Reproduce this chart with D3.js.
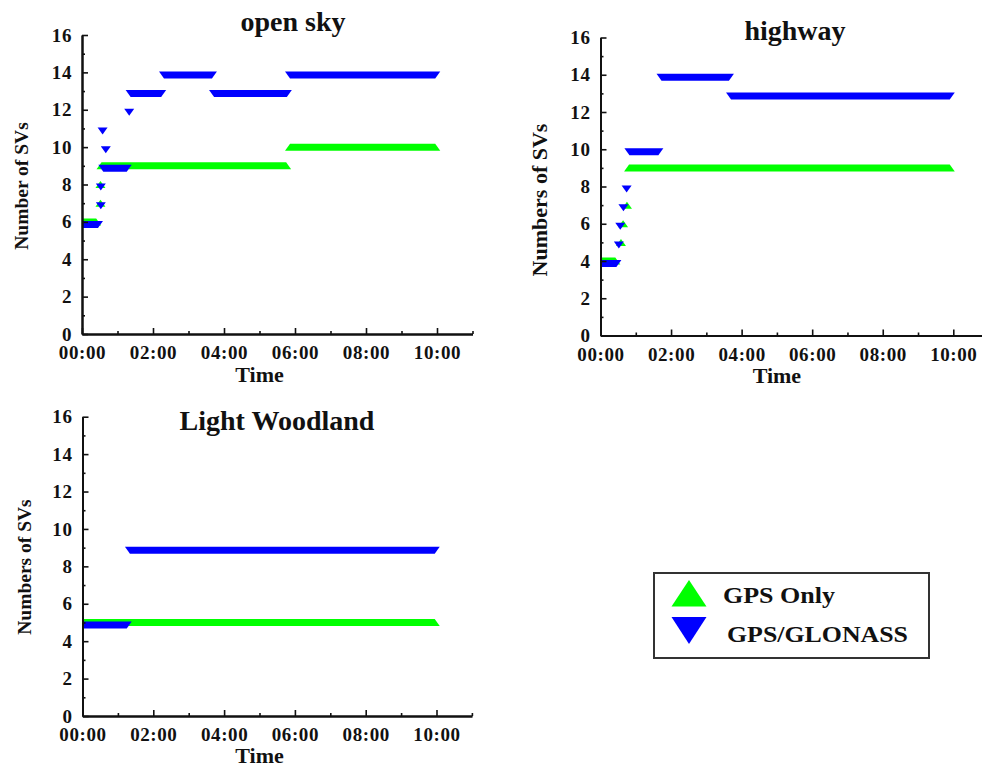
<!DOCTYPE html>
<html>
<head>
<meta charset="utf-8">
<script src="https://cdn.jsdelivr.net/npm/d3@7"></script>
<style>
  body { margin: 0; background: #fff; }
  text { font-family: "Liberation Serif", "Times New Roman", serif; font-weight: bold; fill: #111; }
</style>
</head>
<body>
<svg width="982" height="769"></svg>
<script>
// time ticks (hours on the axis, labelled hh:mm)
var majorTimes = [0, 2, 4, 6, 8, 10];
var minorTimes = [1, 3, 5, 7, 9, 11];
var timeLabels = ["00:00", "02:00", "04:00", "06:00", "08:00", "10:00"];
var majorSVs = [0, 2, 4, 6, 8, 10, 12, 14, 16];
var minorSVs = [1, 3, 5, 7, 9, 11, 13, 15];

// each run: [start time, end time, number of SVs]
var openSkyGps = [[0, 0.4, 6], [0.52, 0.52, 7], [0.52, 0.52, 8], [0.55, 5.75, 9], [5.86, 9.95, 10]];
var openSkyGlonass = [[0, 0.45, 6], [0.53, 0.53, 7], [0.53, 0.53, 8], [0.6, 1.26, 9], [0.67, 0.67, 10],
  [0.58, 0.58, 11], [1.33, 1.33, 12], [1.37, 2.23, 13], [2.31, 3.66, 14], [3.72, 5.77, 13], [5.86, 9.95, 14]];

var highwayGps = [[0, 0.42, 4], [0.58, 0.58, 5], [0.64, 0.64, 6], [0.75, 0.75, 7], [0.81, 9.9, 9]];
var highwayGlonass = [[0, 0.45, 4], [0.52, 0.52, 5], [0.56, 0.56, 6], [0.65, 0.65, 7], [0.74, 0.74, 8],
  [0.82, 1.64, 10], [1.73, 3.64, 14], [3.7, 9.9, 13]];

var woodlandGps = [[0, 9.95, 5]];
var woodlandGlonass = [[0, 1.25, 5], [1.34, 9.95, 9]];

var svg = d3.select("svg");

var panels = [
  { title: "open sky", ylabel: "Number of SVs", gps: openSkyGps, glonass: openSkyGlonass,
    x0: 82, hr: 35.5, y0: 334, y16: 35, titleX: 293, titleY: 31, labX: 28, labY: 186, labSize: 19.5, timeY: 382 },
  { title: "highway", ylabel: "Numbers of SVs", gps: highwayGps, glonass: highwayGlonass,
    x0: 600.5, hr: 35.28, y0: 335.5, y16: 37.5, titleX: 795, titleY: 40, labX: 547, labY: 200, labSize: 22, timeY: 383 },
  { title: "Light Woodland", ylabel: "Numbers of SVs", gps: woodlandGps, glonass: woodlandGlonass,
    x0: 82.5, hr: 35.4, y0: 716, y16: 416.7, titleX: 277, titleY: 430, labX: 31, labY: 567, labSize: 19.5, timeY: 763 }
];

var hw = 5; // half width of a marker

function upRun(x, y, d) {
  var a = x(d[0]), b = x(d[1]), c = y(d[2]);
  return "M" + a + "," + (c - 3.5) + "L" + b + "," + (c - 3.5) +
    "L" + (b + hw) + "," + (c + 3.5) + "L" + (a - hw) + "," + (c + 3.5) + "Z";
}

function downRun(x, y, d) {
  var a = x(d[0]), b = x(d[1]), c = y(d[2]);
  return "M" + (a - hw) + "," + (c - 1) + "L" + (b + hw) + "," + (c - 1) +
    "L" + b + "," + (c + 6) + "L" + a + "," + (c + 6) + "Z";
}

function styleAxis(g) {
  g.attr("font-family", "Liberation Serif, Times New Roman, serif")
    .attr("font-size", 19)
    .attr("font-weight", "bold");
  g.selectAll(".tick text").attr("letter-spacing", 0.6);
  g.select(".domain").attr("stroke", "#111").attr("stroke-width", 2);
  g.selectAll(".tick line").attr("stroke", "#111").attr("stroke-width", 1.6);
}

panels.forEach(function (p, i) {
  var x = d3.scaleLinear().domain([0, 11]).range([p.x0, p.x0 + 11 * p.hr]);
  var y = d3.scaleLinear().domain([0, 16]).range([p.y0, p.y16]);
  var g = svg.append("g");

  g.append("clipPath").attr("id", "clip" + i)
    .append("rect").attr("x", p.x0).attr("y", p.y16 - 10)
    .attr("width", 11 * p.hr + 10).attr("height", p.y0 - p.y16 + 10);

  var plot = g.append("g").attr("clip-path", "url(#clip" + i + ")");
  plot.selectAll("path.gps").data(p.gps).enter().append("path")
    .attr("class", "gps").attr("fill", "#00ff00")
    .attr("d", function (d) { return upRun(x, y, d); });
  plot.selectAll("path.glonass").data(p.glonass).enter().append("path")
    .attr("class", "glonass").attr("fill", "#0000ff")
    .attr("d", function (d) { return downRun(x, y, d); });

  // minor ticks
  g.append("g").attr("transform", "translate(0," + p.y0 + ")")
    .call(d3.axisBottom(x).tickValues(minorTimes).tickSize(-3).tickSizeOuter(0).tickFormat(""))
    .call(styleAxis);
  g.append("g").attr("transform", "translate(" + p.x0 + ",0)")
    .call(d3.axisLeft(y).tickValues(minorSVs).tickSize(-3).tickSizeOuter(0).tickFormat(""))
    .call(styleAxis);

  // major ticks with labels
  g.append("g").attr("transform", "translate(0," + p.y0 + ")")
    .call(d3.axisBottom(x).tickValues(majorTimes).tickSize(-6).tickSizeOuter(0).tickPadding(12)
      .tickFormat(function (d, j) { return timeLabels[j]; }))
    .call(styleAxis);
  g.append("g").attr("transform", "translate(" + p.x0 + ",0)")
    .call(d3.axisLeft(y).tickValues(majorSVs).tickSize(-6).tickSizeOuter(0).tickPadding(10))
    .call(styleAxis);

  g.append("text").attr("x", p.titleX).attr("y", p.titleY)
    .attr("text-anchor", "middle").attr("font-size", 28).text(p.title);

  g.append("text").attr("x", x(5)).attr("y", p.timeY)
    .attr("text-anchor", "middle").attr("font-size", 22).text("Time");

  g.append("text").attr("transform", "translate(" + p.labX + "," + p.labY + ") rotate(-90)")
    .attr("text-anchor", "middle").attr("font-size", p.labSize).text(p.ylabel);
});

// legend
var legend = svg.append("g");
legend.append("rect").attr("x", 654).attr("y", 573).attr("width", 275).attr("height", 85)
  .attr("fill", "none").attr("stroke", "#333").attr("stroke-width", 2);
legend.append("path").attr("fill", "#00ff00")
  .attr("d", "M689,580L706.5,606.5L671.5,606.5Z");
legend.append("path").attr("fill", "#0000ff")
  .attr("d", "M671.5,617L706.5,617L689,644Z");
legend.append("text").attr("x", 723).attr("y", 603).attr("font-size", 24)
  .attr("textLength", 112).attr("lengthAdjust", "spacingAndGlyphs").text("GPS Only");
legend.append("text").attr("x", 727).attr("y", 642).attr("font-size", 24)
  .attr("textLength", 181).attr("lengthAdjust", "spacingAndGlyphs").text("GPS/GLONASS");
</script>
</body>
</html>
